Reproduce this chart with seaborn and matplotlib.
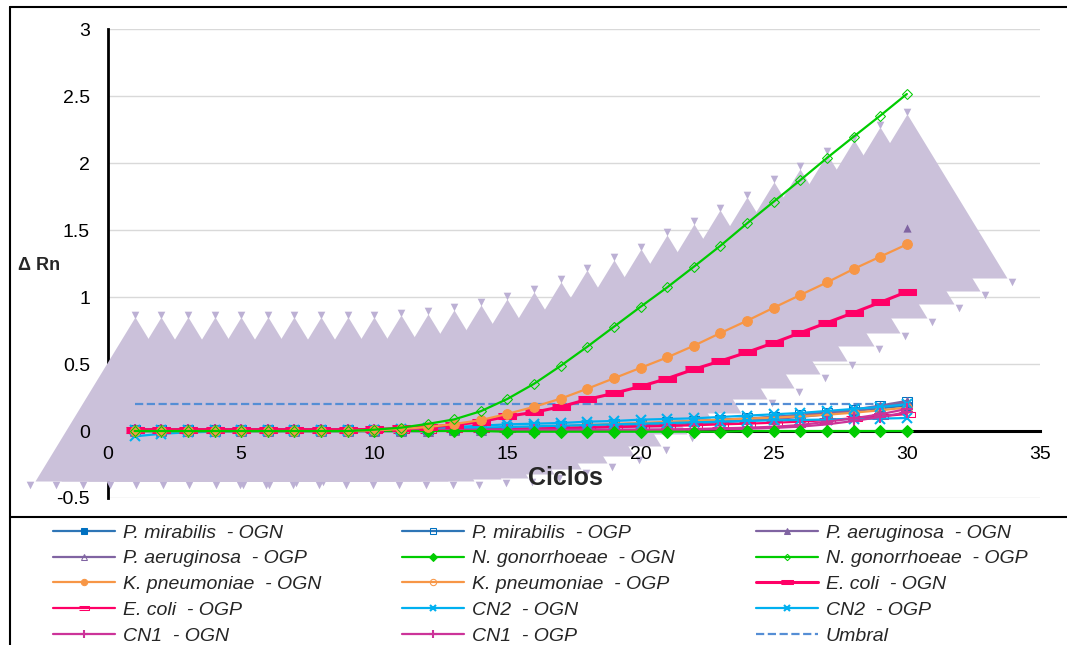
import numpy as np
import matplotlib
matplotlib.use("Agg")
import matplotlib.pyplot as plt
import seaborn as sns
from matplotlib.lines import Line2D

# Data (Delta Rn per cycle)
ciclos = [1, 2, 3, 4, 5, 6, 7, 8, 9, 10, 11, 12, 13, 14, 15,
          16, 17, 18, 19, 20, 21, 22, 23, 24, 25, 26, 27, 28, 29, 30]

p_mir_ogn = [0, 0, 0, 0, 0, 0, 0, 0, 0, 0, 0, 0, 0.005, 0.01, 0.015,
             0.02, 0.03, 0.035, 0.045, 0.05, 0.06, 0.07, 0.08, 0.09, 0.10, 0.115, 0.13, 0.15, 0.17, 0.19]
p_mir_ogp = [0.01, 0.01, 0.01, 0.01, 0.01, 0.01, 0.01, 0.01, 0.01, 0.01, 0.01, 0.012, 0.015, 0.02, 0.025,
             0.03, 0.035, 0.04, 0.05, 0.055, 0.065, 0.075, 0.085, 0.095, 0.105, 0.12, 0.135, 0.155, 0.185, 0.215]
p_aer_ogn = [0, 0, 0, 0, 0, 0, 0, 0, 0, 0, 0, 0, 0.005, 0.01, 0.015,
             0.02, 0.025, 0.03, 0.04, 0.05, 0.06, 0.07, 0.08, 0.09, 0.105, 0.12, 0.14, 0.16, 0.19, 0.225]
p_aer_ogp = [0, 0, 0, 0, 0, 0, 0, 0, 0, 0, 0, 0, 0.005, 0.008, 0.012,
             0.016, 0.02, 0.025, 0.03, 0.037, 0.045, 0.055, 0.065, 0.075, 0.09, 0.105, 0.125, 0.15, 0.18, 0.21]
n_gon_ogn = [0, 0, 0, 0, 0, 0, 0, 0, 0, 0, 0, 0, 0, 0, -0.005,
             -0.005, -0.005, -0.005, -0.005, -0.005, -0.005, -0.005, -0.005, 0, 0, 0, 0, 0, 0, 0]
n_gon_ogp = [0, 0, 0, 0, 0, 0, 0, 0, 0, 0.01, 0.025, 0.053, 0.087, 0.148, 0.24,
             0.353, 0.487, 0.63, 0.779, 0.928, 1.073, 1.227, 1.384, 1.551, 1.713, 1.874, 2.039, 2.198, 2.355, 2.517]
k_pn_ogn = [0, 0, 0, 0, 0, 0, 0, 0, 0, 0.005, 0.015, 0.03, 0.052, 0.082, 0.128,
            0.181, 0.242, 0.316, 0.394, 0.472, 0.55, 0.637, 0.732, 0.824, 0.921, 1.016, 1.11, 1.21, 1.302, 1.394]
k_pn_ogp = [0.005, 0.005, 0.005, 0.005, 0.005, 0.005, 0.005, 0.005, 0.005, 0.005, 0.008, 0.01, 0.015, 0.02, 0.025,
            0.03, 0.037, 0.045, 0.053, 0.06, 0.068, 0.076, 0.085, 0.093, 0.1, 0.11, 0.122, 0.137, 0.155, 0.175]
e_coli_ogn = [0.01, 0.01, 0.01, 0.01, 0.01, 0.01, 0.01, 0.01, 0.01, 0.012, 0.02, 0.03, 0.045, 0.07, 0.11,
              0.14, 0.181, 0.236, 0.282, 0.333, 0.392, 0.461, 0.523, 0.588, 0.659, 0.734, 0.809, 0.884, 0.961, 1.04]
e_coli_ogp = [0.01, 0.01, 0.01, 0.01, 0.01, 0.01, 0.01, 0.01, 0.01, 0.01, 0.01, 0.01, 0.012, 0.015, 0.018,
              0.02, 0.023, 0.026, 0.03, 0.034, 0.038, 0.043, 0.05, 0.055, 0.062, 0.07, 0.082, 0.095, 0.11, 0.127]
cn2_ogn = [-0.04, -0.02, -0.01, -0.005, 0, 0, 0, 0, 0, 0.005, 0.01, 0.015, 0.02, 0.025, 0.03,
           0.035, 0.04, 0.045, 0.05, 0.055, 0.06, 0.065, 0.07, 0.075, 0.08, 0.083, 0.086, 0.09, 0.093, 0.097]
cn2_ogp = [0.01, 0.01, 0.01, 0.01, 0.01, 0.01, 0.01, 0.01, 0.01, 0.01, 0.015, 0.02, 0.03, 0.04, 0.05,
           0.055, 0.06, 0.07, 0.075, 0.085, 0.09, 0.095, 0.105, 0.115, 0.125, 0.135, 0.15, 0.165, 0.18, 0.2]
cn1_ogn = [0.01, 0.01, 0.01, 0.01, 0.01, 0.01, 0.01, 0.01, 0.01, 0.01, 0.01, 0.01, 0.01, 0.01, 0.01,
           0.01, 0.01, 0.01, 0.01, 0.01, 0.012, 0.015, 0.02, 0.025, 0.032, 0.045, 0.07, 0.095, 0.125, 0.165]
cn1_ogp = [0.005, 0.005, 0.005, 0.005, 0.005, 0.005, 0.005, 0.005, 0.005, 0.005, 0.005, 0.005, 0.005, 0.005, 0.005,
           0.005, 0.005, 0.005, 0.005, 0.005, 0.007, 0.01, 0.013, 0.017, 0.023, 0.033, 0.05, 0.075, 0.105, 0.14]
umbral = [0.2, 0.2, 0.2, 0.2, 0.2, 0.2, 0.2, 0.2, 0.2, 0.2, 0.2, 0.2, 0.2, 0.2, 0.2,
          0.2, 0.2, 0.2, 0.2, 0.2, 0.2, 0.2, 0.2, 0.2, 0.2, 0.2, 0.2, 0.2, 0.2, 0.2]
# series drawn with the oversized triangle markers (lavender area)
sombra = [0, 0, 0, 0, 0, 0, 0, 0, 0, 0, 0.015, 0.023, 0.053, 0.09, 0.135,
          0.187, 0.262, 0.351, 0.426, 0.508, 0.613, 0.695, 0.799, 0.896, 1.009, 1.106, 1.218, 1.322, 1.419, 1.516]

x_ticks = [0, 5, 10, 15, 20, 25, 30, 35]
y_ticks = [-0.5, 0, 0.5, 1, 1.5, 2, 2.5, 3]
y_labels = ["-0.5", "0", "0.5", "1", "1.5", "2", "2.5", "3"]

sns.set_style("white")
plt.rcParams['font.family'] = ['Liberation Sans', 'DejaVu Sans']

fig = plt.figure(figsize=(10.67, 6.45), dpi=100)
ax = fig.add_axes([108 / 1067, 1 - 498 / 645, 932 / 1067, (498 - 29.3) / 645])

# big triangle marker (apex 114px above point, base 50px below, 200px wide)
tri = [(0, 114), (-100, -50), (100, -50)]
lav = '#cbc1da'
sx = np.array(ciclos, dtype=float)
sy = np.array(sombra)
ax.scatter(np.concatenate([sx - 3.94, sx, sx + 3.94]),
           np.concatenate([sy - 0.40, sy + 0.87, sy - 0.40]),
           marker='v', s=30, color='#bcb0d4', linewidths=0, zorder=2.9, clip_on=False)
sns.scatterplot(x=ciclos, y=sombra, marker=tri, s=164.2 ** 2, color=lav, linewidth=0,
                zorder=3, clip_on=False, legend=False, ax=ax)
sns.scatterplot(x=ciclos[-1:], y=sombra[-1:], marker='^', s=35, color='#8064a2', linewidth=0,
                zorder=4, legend=False, ax=ax)

for yv in y_ticks:
    ax.axhline(yv, color='#d9d9d9', lw=1, zorder=0.5)

bar = [(-1, -0.3), (1, -0.3), (1, 0.3), (-1, 0.3)]
kw = dict(ax=ax, legend=False, errorbar=None, linewidth=1.6, zorder=5)

sns.lineplot(x=ciclos, y=umbral, color='#558ed5', linestyle='--', label='Umbral', **kw)
sns.lineplot(x=ciclos, y=p_mir_ogn, color='#2e75b6', marker='s', markersize=6,
             markerfacecolor='#0070c0', markeredgecolor='#0070c0', label='P. mirabilis  - OGN', **kw)
sns.lineplot(x=ciclos, y=p_mir_ogp, color='#2e75b6', marker='s', markersize=7,
             markerfacecolor='none', markeredgecolor='#0070c0', label='P. mirabilis  - OGP', **kw)
sns.lineplot(x=ciclos, y=p_aer_ogn, color='#8064a2', marker='^', markersize=6,
             markerfacecolor='#8064a2', markeredgecolor='#8064a2', label='P. aeruginosa  - OGN', **kw)
sns.lineplot(x=ciclos, y=p_aer_ogp, color='#8064a2', marker='^', markersize=7,
             markerfacecolor='none', markeredgecolor='#8064a2', label='P. aeruginosa  - OGP', **kw)
sns.lineplot(x=ciclos, y=k_pn_ogp, color='#f79646', marker='o', markersize=7,
             markerfacecolor='none', markeredgecolor='#f79646', label='K. pneumoniae  - OGP', **kw)
sns.lineplot(x=ciclos, y=e_coli_ogp, color='#ff0066', marker=bar, markersize=12,
             markerfacecolor='none', markeredgecolor='#ff0066', label='E. coli  - OGP', **kw)
sns.lineplot(x=ciclos, y=cn2_ogn, color='#00b0f0', marker='x', markersize=7,
             markeredgecolor='#00b0f0', markeredgewidth=1.5, label='CN2  - OGN', **kw)
sns.lineplot(x=ciclos, y=cn2_ogp, color='#00b0f0', marker='x', markersize=7,
             markeredgecolor='#00b0f0', markeredgewidth=1.5, label='CN2  - OGP', **kw)
sns.lineplot(x=ciclos, y=cn1_ogn, color='#cc3399', marker='+', markersize=8,
             markeredgecolor='#cc3399', markeredgewidth=1.5, label='CN1  - OGN', **kw)
sns.lineplot(x=ciclos, y=cn1_ogp, color='#cc3399', marker='+', markersize=8,
             markeredgecolor='#cc3399', markeredgewidth=1.5, label='CN1  - OGP', **kw)
sns.lineplot(x=ciclos, y=n_gon_ogn, color='#00cc00', marker='D', markersize=6,
             markerfacecolor='#00cc00', markeredgecolor='#00cc00', label='N. gonorrhoeae  - OGN', **kw)
sns.lineplot(x=ciclos, y=e_coli_ogn, color='#ff0066', marker=bar, markersize=13,
             markerfacecolor='#ff0066', markeredgecolor='#ff0066', label='E. coli  - OGN',
             ax=ax, legend=False, errorbar=None, linewidth=2.2, zorder=5)
sns.lineplot(x=ciclos, y=k_pn_ogn, color='#f79646', marker='o', markersize=7,
             markerfacecolor='#f79646', markeredgecolor='#f79646', label='K. pneumoniae  - OGN', **kw)
sns.lineplot(x=ciclos, y=n_gon_ogp, color='#00cc00', marker='D', markersize=5,
             markerfacecolor='none', markeredgecolor='#00cc00', label='N. gonorrhoeae  - OGP', **kw)

ax.set_xlim(0, 35)
ax.set_ylim(-0.5, 3)
ax.set_xticks(x_ticks)
ax.set_xticklabels([str(v) for v in x_ticks])
ax.set_yticks(y_ticks)
ax.set_yticklabels(y_labels)
ax.tick_params(axis='both', length=0, labelsize=14, labelcolor='black')
ax.tick_params(axis='y', pad=13)
ax.tick_params(axis='x', pad=11)
ax.set_xlabel('')
ax.set_ylabel('')
ax.grid(False)
ax.xaxis.set_zorder(10)
ax.yaxis.set_zorder(10)
for side in ['top', 'right']:
    ax.spines[side].set_visible(False)
ax.spines['left'].set_linewidth(2)
ax.spines['left'].set_color('black')
ax.spines['bottom'].set_linewidth(2.2)
ax.spines['bottom'].set_color('black')
ax.spines['bottom'].set_position(('data', 0))
ax.patch.set_alpha(0)

fig.text(565 / 1067, 1 - 478 / 645, 'Ciclos', ha='center', va='center', fontsize=18, fontweight='bold')
fig.text(18 / 1067, 1 - 265 / 645, 'Δ Rn', ha='left', va='center', fontsize=13, fontweight='bold')

# chart frame and legend separator
fig.add_artist(Line2D([10 / 1067, 10 / 1067], [0, 1 - 7 / 645], color='black', lw=1.5))
fig.add_artist(Line2D([10 / 1067, 1], [1 - 7 / 645, 1 - 7 / 645], color='black', lw=1.5))
fig.add_artist(Line2D([10 / 1067, 1], [1 - 517 / 645, 1 - 517 / 645], color='black', lw=1.5))

order = ['P. mirabilis  - OGN', 'P. mirabilis  - OGP', 'P. aeruginosa  - OGN',
         'P. aeruginosa  - OGP', 'N. gonorrhoeae  - OGN', 'N. gonorrhoeae  - OGP',
         'K. pneumoniae  - OGN', 'K. pneumoniae  - OGP', 'E. coli  - OGN',
         'E. coli  - OGP', 'CN2  - OGN', 'CN2  - OGP',
         'CN1  - OGN', 'CN1  - OGP', 'Umbral']
handles, labels = ax.get_legend_handles_labels()
hmap = dict(zip(labels, handles))
# matplotlib fills columns first; Excel fills rows first
col_order = [order[r * 3 + c] for c in range(3) for r in range(5)]
fig.legend([hmap[l] for l in col_order], col_order, loc='upper left',
           bbox_to_anchor=(53 / 1067, 1 - 524 / 645), ncol=3, frameon=False,
           prop={'style': 'italic', 'size': 14}, handlelength=3.2, handletextpad=0.4,
           columnspacing=4.15, labelspacing=0.42, borderpad=0, borderaxespad=0, markerscale=0.65)

fig.savefig('out.png', dpi=100)
